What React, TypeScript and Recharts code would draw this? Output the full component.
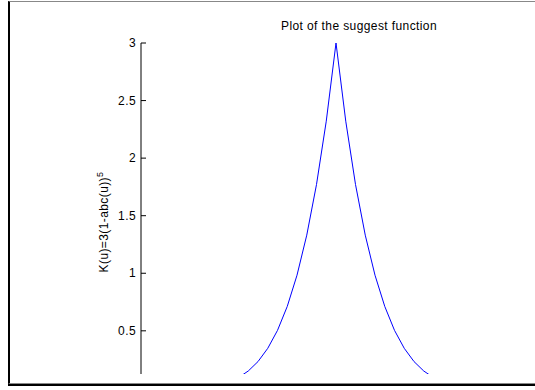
import React from "react";
import { LineChart, Line, XAxis, YAxis } from "recharts";

const uValues = [-1, -0.5, -0.45, -0.4, -0.35, -0.3, -0.25, -0.2, -0.15, -0.1, -0.05, 0, 0.05, 0.1, 0.15, 0.2, 0.25, 0.3, 0.35, 0.4, 0.45, 0.5, 1];
const kValues = [0, 0.094, 0.151, 0.233, 0.348, 0.504, 0.712, 0.983, 1.331, 1.771, 2.321, 3, 2.321, 1.771, 1.331, 0.983, 0.712, 0.504, 0.348, 0.233, 0.151, 0.094, 0];
const yTicks = [0.5, 1, 1.5, 2, 2.5, 3];
const titleText = "Plot of the suggest function";
const yLabelMain = "K(u)=3(1-abc(u))";
const yLabelSup = "5";

const data = uValues.map((u, i) => ({ u, k: kValues[i] }));

const FONT = "'Liberation Sans', Arial, Helvetica, sans-serif";

const TICK_SIZE = 0;
const TICK_MARGIN = 5;

const YTick = (props: any) => {
  const { x, y, payload } = props;
  const axisX = x + TICK_SIZE + TICK_MARGIN;
  return (
    <g>
      <line x1={axisX} x2={axisX + 5} y1={y} y2={y} stroke="#000" strokeWidth={1} />
      <text x={x} y={y} dy={4} textAnchor="end" fontSize={12} fill="#000" fontFamily={FONT} letterSpacing={0.4}>
        {payload.value}
      </text>
    </g>
  );
};

const YLabel = () => (
  <text
    x={108}
    y={222}
    transform="rotate(-90 108 222)"
    textAnchor="middle"
    fontSize={12}
    fill="#000"
    fontFamily={FONT}
    letterSpacing={0.4}
  >
    {yLabelMain}
    <tspan dy={-5} fontSize={9}>{yLabelSup}</tspan>
  </text>
);

export default function App() {
  return (
    <div style={{ position: "absolute", left: 0, top: 0, width: 535, height: 390, background: "#fff", overflow: "hidden" }}>
      <div
        style={{
          position: "absolute",
          left: 8,
          top: 1,
          width: 540,
          height: 383,
          boxSizing: "border-box",
          borderLeft: "2px solid #000",
          borderTop: "1px solid #888",
          borderBottom: "1px solid #888",
        }}
      />
      <div style={{ position: "absolute", left: 8, top: 384, width: 540, height: 2, background: "#000" }} />
      <div
        style={{
          position: "absolute",
          left: 359,
          top: 19,
          transform: "translateX(-50%)",
          whiteSpace: "nowrap",
          fontFamily: FONT,
          fontSize: 12,
          letterSpacing: 0.4,
          color: "#000",
          lineHeight: "14px",
        }}
      >
        {titleText}
      </div>
      <div style={{ position: "absolute", left: 0, top: 0 }}>
        <LineChart width={535} height={390} data={data} margin={{ top: 43, right: 4, bottom: 16, left: 0 }}>
          <XAxis dataKey="u" type="number" domain={[-1, 1]} hide allowDataOverflow />
          <YAxis
            type="number"
            domain={[0.125, 3]}
            allowDataOverflow
            ticks={yTicks}
            width={141}
            tickSize={TICK_SIZE}
            tickMargin={TICK_MARGIN}
            tickLine={false}
            axisLine={{ stroke: "#000", strokeWidth: 1 }}
            tick={<YTick />}
            label={<YLabel />}
          />
          <Line
            type="linear"
            dataKey="k"
            stroke="#0000ff"
            strokeWidth={1}
            dot={false}
            isAnimationActive={false}
          />
        </LineChart>
      </div>
    </div>
  );
}
